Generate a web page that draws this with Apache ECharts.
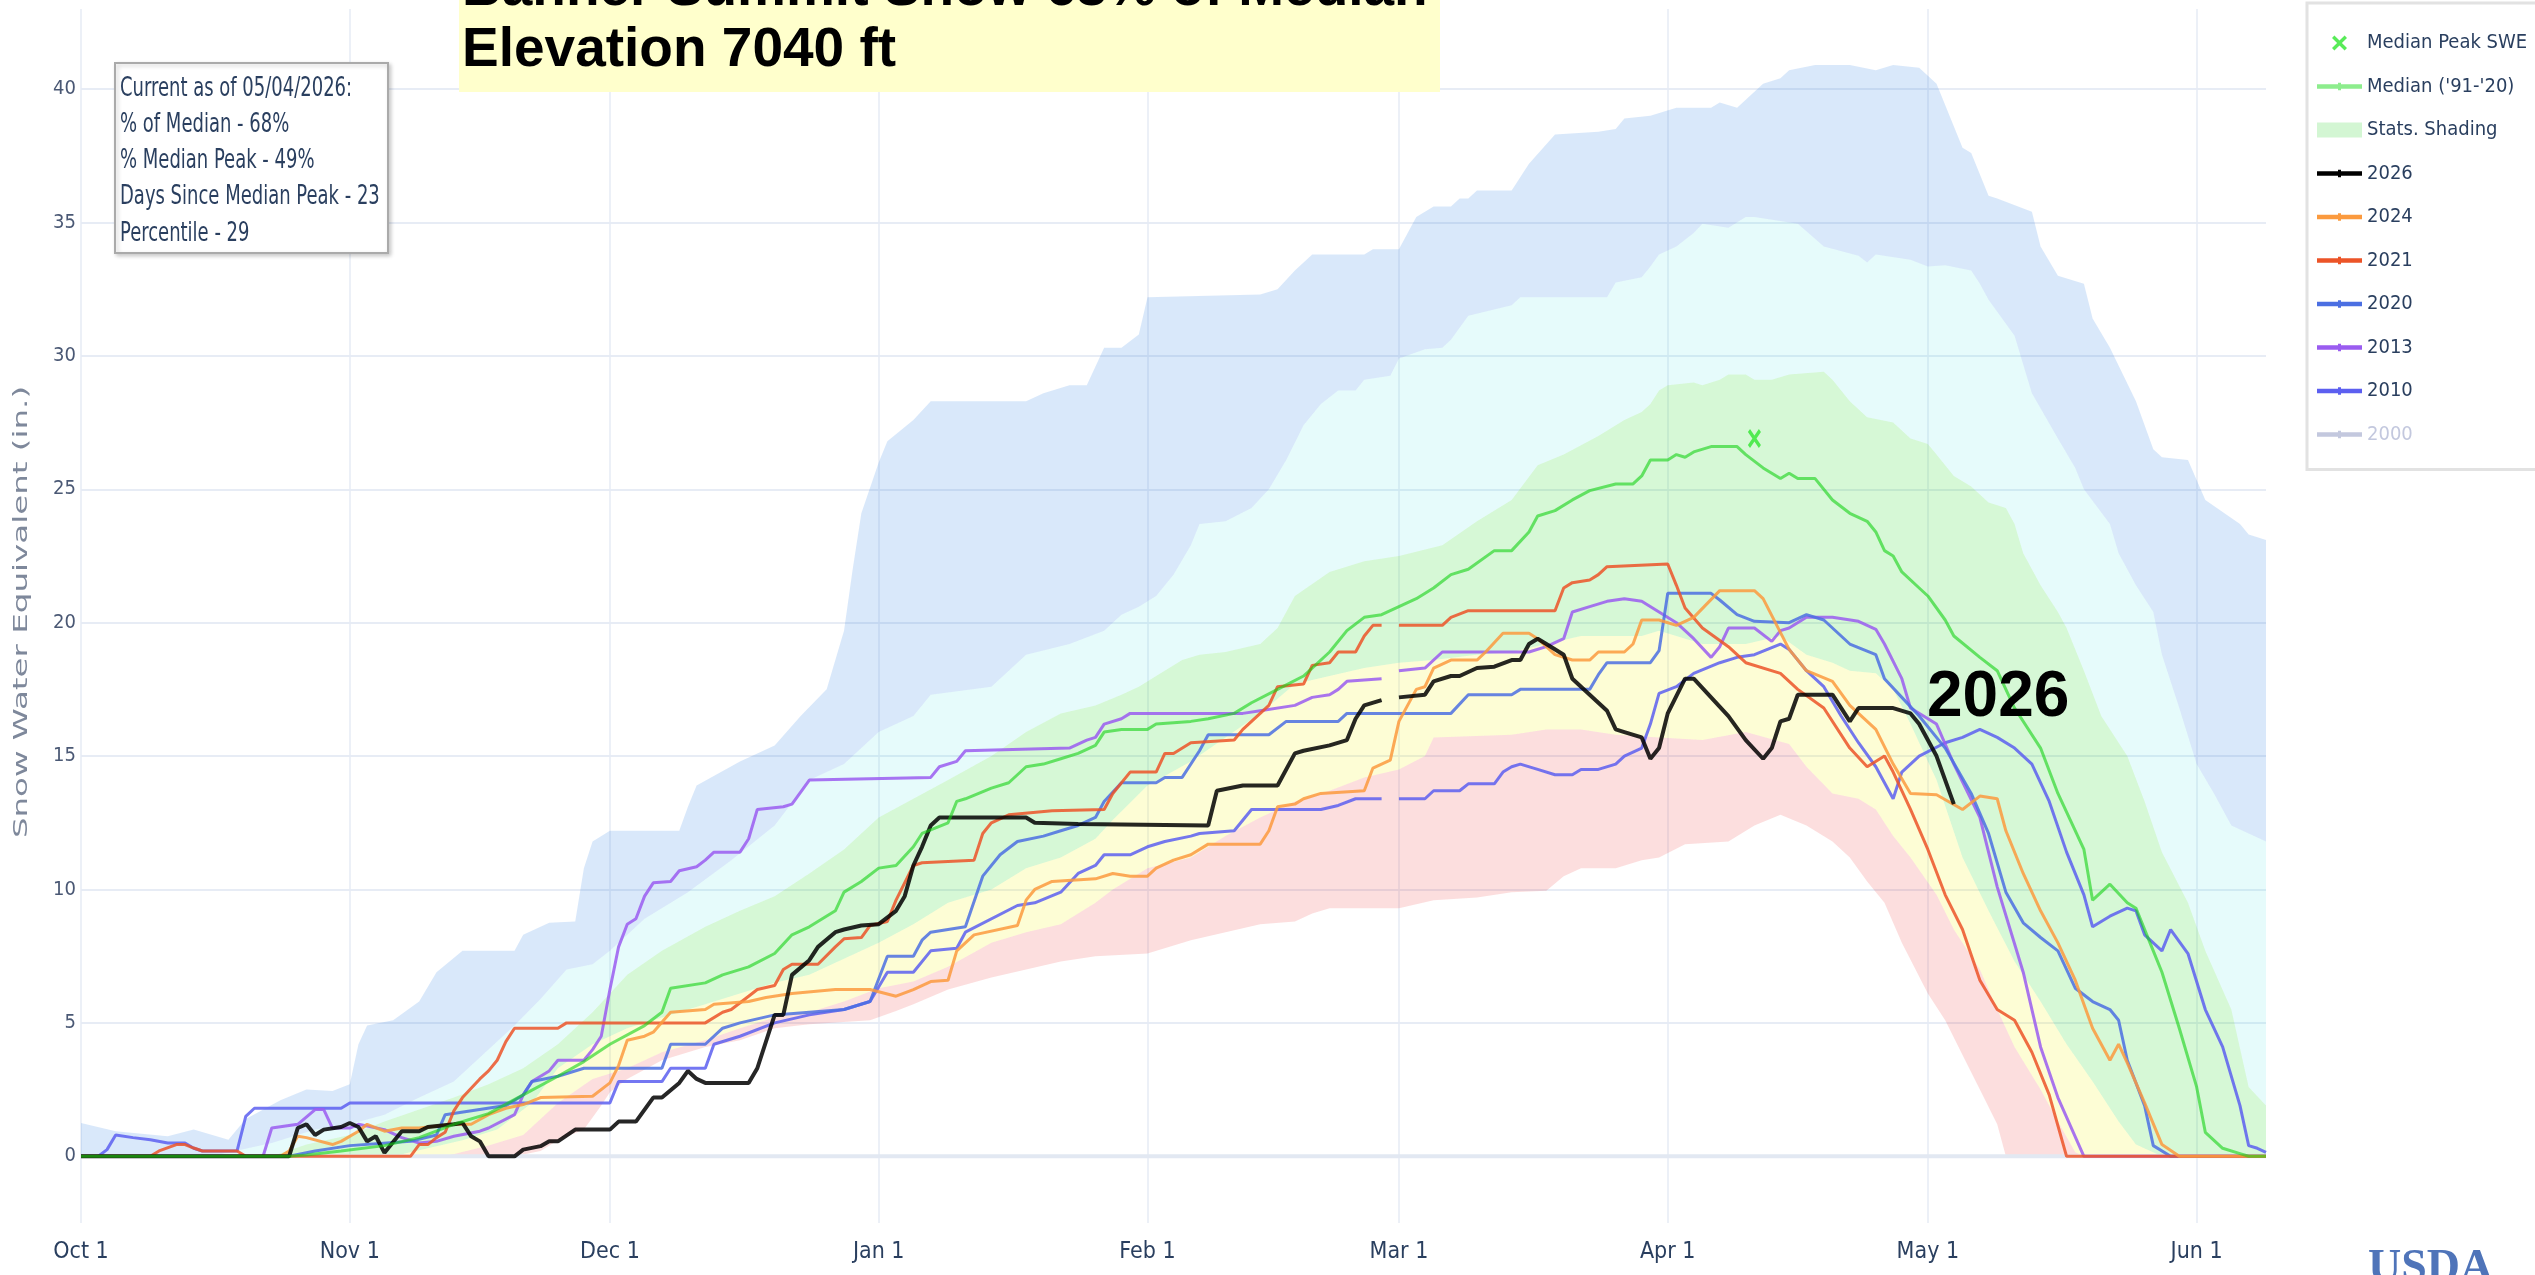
<!DOCTYPE html>
<html>
<head>
<meta charset="utf-8">
<title>Banner Summit SWE</title>
<script src="https://cdn.jsdelivr.net/npm/echarts@6/dist/echarts.min.js"></script>
<style>
  html, body { margin: 0; padding: 0; background: #fff; }
  #swe { width: 2535px; height: 1275px; }
</style>
</head>
<body>
<div id="swe"></div>
<script>
// x = day of water year, 0 = Oct 1 (leap calendar, Feb 29 = day 151)
const xMin = 0, xMax = 252;
const monthStarts = [0, 31, 61, 92, 123, 152, 183, 213, 244];
const monthLabels = ['Oct 1', 'Nov 1', 'Dec 1', 'Jan 1', 'Feb 1', 'Mar 1', 'Apr 1', 'May 1', 'Jun 1'];
const yTicks = [0, 5, 10, 15, 20, 25, 30, 35, 40];

// stats shading boundaries (in.)
const sweMax = [[0,1.25],[4,0.94],[10,0.75],[13,1.0],[17,0.62],[19,1.4],[23,2.1],[26,2.5],[29,2.45],[31,2.7],[32,4.2],[33,4.9],[36,5.1],[39,5.8],[41,6.9],[44,7.7],[50,7.7],[51,8.3],[54,8.75],[57,8.8],[58,10.8],[59,11.8],[61,12.2],[69,12.2],[70,13.1],[71,13.9],[76,14.8],[80,15.4],[83,16.5],[86,17.5],[88,19.7],[89,22.0],[90,24.1],[92,26.0],[93,26.8],[96,27.6],[98,28.3],[109,28.3],[111,28.6],[114,28.9],[116,28.9],[118,30.3],[120,30.3],[122,30.8],[123,32.2],[136,32.3],[138,32.5],[140,33.2],[142,33.8],[148,33.8],[149,34.0],[152,34.0],[154,35.2],[156,35.6],[158,35.6],[159,35.9],[160,35.9],[161,36.2],[165,36.2],[167,37.2],[170,38.3],[175,38.4],[177,38.5],[178,38.9],[181,39.0],[184,39.3],[188,39.3],[189,39.5],[191,39.3],[192,39.6],[194,40.2],[196,40.4],[197,40.7],[200,40.9],[204,40.9],[207,40.7],[209,40.9],[212,40.8],[214,40.2],[217,37.8],[218,37.6],[220,36.0],[221,35.9],[225,35.4],[226,34.1],[228,33.0],[231,32.7],[232,31.4],[234,30.3],[237,28.3],[239,26.5],[240,26.2],[243,26.1],[245,24.6],[249,23.7],[250,23.3],[252,23.1]];
const sweP90 = [[0,0],[15,0],[22,0.5],[27,1.0],[31,1.2],[35,1.56],[39,2.2],[43,2.8],[47,4.0],[50,4.9],[53,5.9],[56,7.0],[59,7.2],[61,7.7],[65,8.9],[70,9.9],[75,11.1],[80,12.4],[84,14.1],[88,14.7],[92,15.9],[96,16.5],[98,17.3],[105,17.6],[109,18.8],[114,19.2],[118,19.7],[120,20.3],[122,20.6],[124,21.0],[126,21.8],[128,22.9],[129,23.7],[132,23.8],[135,24.3],[137,25.0],[139,26.1],[141,27.4],[143,28.2],[145,28.7],[147,28.7],[148,29.1],[151,29.25],[152,29.9],[155,30.25],[157,30.3],[158,30.6],[160,31.5],[165,31.9],[166,32.2],[176,32.2],[177,32.75],[180,32.95],[181,33.35],[182,33.8],[184,34.1],[186,34.6],[187,34.95],[190,34.8],[192,35.2],[193,35.2],[198,34.95],[201,34.1],[205,33.75],[206,33.5],[207,33.8],[211,33.6],[213,33.35],[215,33.4],[218,33.2],[219,32.7],[220,32.1],[223,30.75],[225,28.6],[228,26.9],[230,25.8],[231,25.0],[234,23.7],[235,22.6],[237,21.4],[239,20.4],[240,18.8],[242,16.8],[244,14.7],[246,13.6],[248,12.4],[250,12.1],[252,11.8]];
const sweP70 = [[0,0],[22,0],[26,0.44],[31,0.8],[35,1.3],[39,1.75],[43,2.2],[47,2.7],[51,3.3],[55,4.2],[59,5.4],[63,6.8],[67,7.7],[72,8.6],[76,9.2],[80,9.75],[84,10.6],[88,11.5],[92,12.7],[96,13.4],[100,14.1],[105,15.0],[109,15.9],[113,16.6],[117,16.9],[120,17.3],[122,17.6],[124,18.0],[127,18.6],[129,18.8],[132,18.9],[136,19.2],[138,19.8],[140,21.0],[144,21.9],[148,22.3],[152,22.5],[157,22.9],[161,23.8],[165,24.6],[168,25.9],[171,26.3],[175,27.0],[178,27.6],[180,27.9],[181,28.2],[182,28.7],[183,28.9],[186,29.0],[187,28.9],[189,29.1],[190,29.3],[192,29.3],[193,29.1],[195,29.1],[197,29.3],[201,29.4],[202,29.1],[204,28.3],[206,27.7],[209,27.5],[211,26.9],[213,26.7],[214,26.3],[216,25.5],[218,25.1],[220,24.5],[222,24.3],[223,23.7],[224,22.6],[226,21.4],[228,20.4],[229,19.8],[231,18.2],[233,16.5],[236,15.0],[238,13.3],[240,11.4],[243,9.5],[245,7.7],[248,5.5],[250,2.6],[252,1.9]];
const sweP30 = [[0,0],[36,0],[40,0.3],[44,0.6],[48,1.0],[52,2.0],[55,3.3],[59,4.2],[63,4.8],[67,5.2],[72,5.7],[76,6.1],[80,6.5],[84,6.8],[88,7.4],[92,8.0],[96,8.7],[100,9.5],[105,10.0],[109,10.8],[113,11.2],[117,11.9],[119,12.6],[123,13.9],[128,14.8],[132,15.7],[136,16.6],[140,17.7],[144,18.0],[148,18.3],[152,18.5],[156,18.6],[161,18.8],[165,18.9],[169,19.2],[173,19.5],[180,19.5],[182,19.7],[187,19.2],[192,19.2],[196,19.5],[199,18.8],[202,18.5],[204,18.2],[207,18.1],[209,17.5],[211,16.2],[214,14.1],[217,11.2],[220,9.2],[223,7.3],[226,5.8],[229,4.2],[232,2.8],[235,1.3],[237,0.44],[240,0],[252,0]];
const sweP10 = [[0,0],[42,0],[47,0.4],[51,0.8],[55,2.0],[59,2.9],[63,3.3],[67,3.9],[72,4.35],[76,4.8],[80,5.2],[84,5.4],[88,5.8],[92,6.3],[96,6.55],[100,7.1],[105,8.0],[109,8.4],[113,8.7],[117,9.5],[119,10.0],[123,10.8],[128,11.2],[132,12.0],[136,12.7],[140,13.3],[144,13.7],[148,14.2],[152,14.5],[155,15.0],[156,15.7],[165,15.8],[169,16.0],[173,16.0],[177,15.8],[182,15.7],[187,15.6],[192,15.9],[197,15.45],[199,14.6],[202,13.6],[205,13.4],[207,13.0],[209,12.0],[211,11.2],[214,9.8],[216,8.5],[219,7.0],[221,5.5],[223,4.1],[226,2.5],[228,1.3],[230,0.15],[231,0],[252,0]];
const sweMin = [[0,0],[50,0],[53,0.2],[55,0.6],[58,1.0],[60,1.9],[61,2.4],[63,2.9],[67,3.6],[72,4.1],[76,4.35],[80,4.8],[84,4.95],[91,5.1],[94,5.45],[96,5.7],[100,6.25],[105,6.7],[109,7.0],[113,7.3],[117,7.5],[123,7.6],[128,8.1],[132,8.4],[136,8.7],[140,8.8],[142,9.1],[144,9.3],[152,9.3],[156,9.6],[161,9.7],[165,9.9],[169,9.95],[171,10.5],[173,10.8],[177,10.8],[180,11.1],[182,11.2],[185,11.7],[190,11.8],[193,12.4],[196,12.8],[199,12.4],[202,11.8],[204,11.2],[206,10.3],[208,9.5],[210,8.0],[213,6.1],[215,5.1],[217,3.8],[219,2.5],[221,1.2],[222,0],[252,0]];

// median ('91-'20) and yearly SWE; '-' on Feb 29 breaks non-leap years
const median = [[0,0],[24,0],[26,0.05],[30,0.2],[35,0.4],[39,0.7],[43,1.2],[47,1.6],[51,2.3],[55,3.0],[58,3.55],[61,4.2],[65,4.9],[67,5.4],[68,6.3],[72,6.5],[74,6.8],[77,7.1],[80,7.6],[82,8.3],[84,8.6],[87,9.2],[88,9.9],[90,10.3],[92,10.8],[94,10.9],[96,11.6],[97,12.1],[100,12.5],[101,13.3],[102,13.4],[105,13.8],[107,14.0],[109,14.6],[111,14.7],[113,14.9],[115,15.1],[117,15.4],[118,15.9],[120,16.0],[123,16.0],[124,16.2],[128,16.3],[130,16.4],[133,16.6],[135,17.0],[138,17.5],[141,18.0],[144,18.9],[146,19.7],[148,20.2],[150,20.3],[152,20.6],[154,20.9],[156,21.3],[158,21.8],[160,22.0],[163,22.7],[165,22.7],[167,23.4],[168,24.0],[170,24.2],[172,24.6],[174,24.95],[177,25.2],[179,25.2],[180,25.5],[181,26.1],[183,26.1],[184,26.3],[185,26.2],[186,26.4],[188,26.6],[191,26.6],[192,26.3],[194,25.8],[196,25.4],[197,25.6],[198,25.4],[200,25.4],[202,24.6],[204,24.1],[206,23.8],[207,23.4],[208,22.7],[209,22.5],[210,21.9],[212,21.3],[213,21.0],[215,20.1],[216,19.5],[219,18.7],[221,18.2],[223,16.8],[226,15.3],[228,13.6],[231,11.5],[232,9.6],[234,10.2],[236,9.5],[237,9.3],[239,7.7],[240,6.9],[242,4.8],[244,2.6],[245,0.9],[247,0.3],[249,0.1],[250,0],[252,0]];
const medianPeak = [[193, 26.9]];
const wy2026 = [[0,0],[24,0],[25,1.06],[26,1.2],[27,0.8],[28,1.0],[30,1.1],[31,1.25],[32,1.1],[33,0.56],[34,0.75],[35,0.13],[37,0.94],[39,0.94],[40,1.1],[43,1.2],[44,1.25],[45,0.75],[46,0.56],[47,0],[50,0],[51,0.25],[53,0.38],[54,0.56],[55,0.56],[57,1.0],[61,1.0],[62,1.3],[64,1.3],[66,2.2],[67,2.2],[69,2.75],[70,3.2],[71,2.9],[72,2.75],[77,2.75],[78,3.3],[80,5.3],[81,5.3],[82,6.8],[84,7.35],[85,7.85],[87,8.4],[88,8.5],[90,8.65],[92,8.7],[94,9.2],[95,9.75],[96,10.9],[97,11.6],[98,12.4],[99,12.7],[109,12.7],[110,12.5],[115,12.45],[130,12.4],[131,13.7],[134,13.9],[138,13.9],[140,15.1],[141,15.2],[144,15.4],[146,15.6],[147,16.4],[148,16.9],[150,17.1],[151,'-'],[152,17.2],[155,17.3],[156,17.8],[158,18.0],[159,18.0],[161,18.3],[163,18.35],[165,18.6],[166,18.6],[167,19.2],[168,19.4],[169,19.2],[171,18.8],[172,17.9],[173,17.6],[176,16.7],[177,16.0],[178,15.9],[180,15.7],[181,14.9],[182,15.3],[183,16.6],[185,17.9],[186,17.9],[190,16.5],[192,15.6],[194,14.9],[195,15.3],[196,16.3],[197,16.4],[198,17.3],[202,17.3],[204,16.3],[205,16.8],[209,16.8],[211,16.6],[212,16.2],[214,15.0],[216,13.2]];
const wy2024 = [[0,0],[23,0],[24,0.2],[25,0.75],[26,0.7],[29,0.44],[30,0.56],[32,0.94],[33,1.2],[35,0.94],[37,1.06],[39,1.06],[43,1.2],[45,1.2],[47,1.56],[49,1.8],[51,1.94],[53,2.2],[59,2.25],[61,2.75],[62,3.4],[63,4.35],[65,4.5],[66,4.65],[68,5.4],[72,5.5],[73,5.7],[77,5.8],[79,5.95],[82,6.1],[87,6.25],[91,6.25],[94,6.0],[96,6.25],[97,6.4],[98,6.55],[100,6.6],[101,7.7],[103,8.3],[108,8.65],[109,9.6],[110,10.0],[112,10.3],[117,10.4],[119,10.6],[121,10.5],[123,10.5],[124,10.8],[126,11.1],[128,11.3],[130,11.7],[136,11.7],[137,12.2],[138,13.1],[140,13.2],[141,13.4],[143,13.6],[148,13.7],[149,14.55],[151,14.85],[152,16.3],[153,16.9],[154,17.5],[155,17.6],[156,18.3],[158,18.6],[161,18.6],[162,18.9],[164,19.6],[167,19.6],[168,19.4],[170,18.8],[172,18.6],[174,18.6],[175,18.9],[178,18.9],[179,19.2],[180,20.1],[182,20.1],[184,19.9],[186,20.2],[189,21.2],[193,21.2],[194,20.9],[197,19.0],[199,18.2],[202,17.8],[204,16.9],[207,16.0],[209,14.7],[211,13.6],[214,13.55],[217,13.0],[219,13.5],[221,13.4],[222,12.2],[224,10.6],[226,9.2],[228,8.0],[230,6.6],[232,4.8],[234,3.6],[235,4.2],[236,3.5],[238,2.0],[240,0.44],[242,0],[252,0]];
const wy2021 = [[0,0],[8,0],[9,0.2],[11,0.44],[12,0.44],[13,0.31],[14,0.2],[18,0.2],[19,0],[38,0],[39,0.44],[40,0.44],[41,0.7],[42,0.9],[43,1.7],[44,2.2],[46,2.9],[47,3.2],[48,3.6],[49,4.3],[50,4.8],[55,4.8],[56,5.0],[72,5.0],[74,5.4],[75,5.5],[77,6.0],[78,6.25],[80,6.4],[81,7.0],[82,7.2],[85,7.2],[87,7.85],[88,8.15],[90,8.2],[91,8.65],[93,8.8],[94,9.6],[96,10.9],[97,11.0],[103,11.1],[104,12.1],[105,12.5],[107,12.8],[112,12.95],[118,13.0],[119,13.6],[121,14.4],[124,14.4],[125,15.1],[126,15.1],[128,15.5],[133,15.6],[134,16.0],[136,16.6],[137,16.9],[138,17.6],[141,17.7],[142,18.4],[144,18.5],[145,18.9],[147,18.9],[148,19.5],[149,19.9],[150,19.9],[151,'-'],[152,19.9],[157,19.9],[158,20.2],[160,20.45],[170,20.45],[171,21.3],[172,21.5],[174,21.6],[175,21.8],[176,22.1],[183,22.2],[184,21.4],[185,20.55],[187,19.8],[190,19.1],[192,18.5],[196,18.1],[198,17.5],[201,16.8],[204,15.3],[206,14.6],[208,15.0],[209,14.4],[211,13.0],[213,11.5],[215,9.8],[217,8.5],[219,6.6],[221,5.5],[223,5.1],[225,3.9],[227,2.3],[229,0],[252,0]];
const wy2020 = [[0,0],[24,0],[27,0.2],[31,0.4],[38,0.56],[41,0.8],[42,1.56],[49,1.9],[51,2.3],[52,2.8],[55,3.0],[58,3.3],[67,3.3],[68,4.2],[72,4.2],[74,4.8],[76,5.0],[80,5.3],[88,5.5],[91,5.8],[93,7.5],[96,7.5],[97,8.1],[98,8.4],[102,8.6],[104,10.5],[106,11.3],[108,11.8],[111,12.0],[113,12.2],[115,12.4],[117,12.7],[118,13.3],[120,14.0],[124,14.0],[125,14.2],[127,14.2],[129,15.2],[130,15.8],[137,15.8],[139,16.3],[145,16.3],[146,16.6],[158,16.6],[160,17.3],[165,17.3],[166,17.5],[174,17.5],[175,18.05],[176,18.5],[181,18.5],[182,18.95],[183,21.1],[188,21.1],[189,20.85],[191,20.3],[193,20.05],[197,20.0],[199,20.3],[201,20.1],[204,19.2],[207,18.8],[208,17.9],[210,17.2],[212,16.5],[215,15.3],[218,13.6],[220,12.1],[222,9.9],[224,8.75],[226,8.2],[228,7.7],[230,6.3],[232,5.8],[234,5.5],[235,5.1],[236,3.6],[238,1.9],[239,0.4],[241,0],[252,0]];
const wy2013 = [[0,0],[21,0],[22,1.06],[25,1.2],[27,1.75],[28,1.75],[29,1.06],[31,1.06],[32,1.2],[35,1.0],[37,0.7],[39,0.5],[41,0.56],[43,0.75],[46,0.94],[47,1.06],[50,1.56],[51,2.3],[52,2.8],[54,3.2],[55,3.6],[58,3.6],[59,4.0],[60,4.5],[61,6.25],[62,7.85],[63,8.7],[64,8.9],[65,9.75],[66,10.25],[68,10.3],[69,10.7],[71,10.85],[72,11.1],[73,11.4],[76,11.4],[77,11.9],[78,13.0],[81,13.1],[82,13.2],[84,14.1],[98,14.2],[99,14.6],[101,14.8],[102,15.2],[114,15.3],[116,15.6],[117,15.7],[118,16.2],[120,16.4],[121,16.6],[134,16.6],[136,16.7],[140,16.9],[142,17.2],[144,17.3],[145,17.5],[146,17.8],[150,17.9],[151,'-'],[152,18.2],[155,18.3],[157,18.9],[167,18.9],[169,19.1],[171,19.4],[172,20.4],[174,20.6],[176,20.8],[178,20.9],[180,20.8],[182,20.4],[184,20.0],[186,19.4],[188,18.7],[189,19.1],[190,19.8],[193,19.8],[195,19.3],[196,19.7],[197,19.8],[199,20.2],[202,20.2],[205,20.05],[207,19.75],[208,19.2],[210,17.9],[211,16.8],[214,16.2],[216,14.7],[219,12.7],[221,10.1],[224,6.9],[226,4.1],[228,2.2],[231,0],[252,0]];
const wy2010 = [[0,0],[2,0],[3,0.25],[4,0.8],[6,0.7],[8,0.62],[10,0.5],[12,0.5],[13,0.3],[14,0.2],[18,0.2],[19,1.5],[20,1.8],[30,1.8],[31,2.0],[61,2.0],[62,2.8],[67,2.8],[68,3.3],[72,3.3],[73,4.2],[76,4.5],[80,5.0],[84,5.3],[88,5.5],[91,5.8],[93,6.9],[96,6.9],[98,7.7],[101,7.8],[102,8.4],[108,9.4],[110,9.5],[113,9.9],[115,10.6],[117,10.9],[118,11.3],[121,11.3],[123,11.6],[125,11.8],[128,12.0],[129,12.1],[133,12.2],[135,13.0],[143,13.0],[145,13.15],[147,13.4],[150,13.4],[151,'-'],[152,13.4],[155,13.4],[156,13.7],[159,13.7],[160,13.96],[163,13.96],[164,14.4],[165,14.6],[166,14.7],[168,14.5],[170,14.3],[172,14.3],[173,14.5],[175,14.5],[177,14.7],[178,15.0],[180,15.3],[181,16.2],[182,17.35],[184,17.6],[186,18.1],[189,18.5],[191,18.7],[193,18.8],[196,19.2],[197,19.0],[199,18.2],[201,17.6],[203,16.5],[205,15.5],[207,14.6],[209,13.4],[210,14.4],[212,15.0],[215,15.5],[217,15.7],[219,16.0],[221,15.7],[223,15.3],[225,14.7],[227,13.3],[229,11.4],[231,9.8],[232,8.6],[234,9.0],[236,9.3],[237,9.2],[238,8.3],[240,7.7],[241,8.5],[243,7.6],[245,5.5],[247,4.1],[249,1.9],[250,0.4],[251,0.3],[252,0.15]];
const wy2000 = []; // legend-only (hidden) in the original

const infoLines = ['Current as of 05/04/2026:', '% of Median - 68%', '% Median Peak - 49%', 'Days Since Median Peak - 23', 'Percentile - 29'];
const titleLines = ['Banner Summit Snow 68% of Median', 'Elevation 7040 ft'];

const narrow = '"DejaVu Sans Condensed", "DejaVu Sans", sans-serif';
const ink = '#2a3f5f';
const peakIcon = 'path://M0,1.6 L1.6,0 L5,3.4 L8.4,0 L10,1.6 L6.6,5 L10,8.4 L8.4,10 L5,6.6 L1.6,10 L0,8.4 L3.4,5 Z';
// legend icon: thick line with a small tick in the middle (45 x 15 box)
const lineIcon = 'path://M0,0 L0.1,0 L0,0.1 Z M45,15 L44.9,15 L45,14.9 Z M0,5.2 L45,5.2 L45,9.8 L0,9.8 Z M21,3.8 L24,3.8 L24,11.2 L21,11.2 Z';

const chart = echarts.init(document.getElementById('swe'));

// shaded band between two boundary lines, drawn through the axes
function band(upper, lower, fill) {
  return {
    name: 'Stats. Shading',
    type: 'custom',
    silent: true,
    z: 1,
    itemStyle: { color: fill },
    data: [[0, 0]],
    renderItem: function (params, api) {
      const top = upper.map(p => api.coord(p));
      const bottom = lower.slice().reverse().map(p => api.coord(p));
      return { type: 'polygon', shape: { points: top.concat(bottom) }, style: { fill: fill } };
    }
  };
}

function year(name, data, color, width) {
  return {
    name: name,
    type: 'line',
    data: data,
    z: 3,
    showSymbol: false,
    symbol: 'circle',
    symbolSize: 5,
    lineStyle: { color: color, width: width, opacity: 0.85 },
    itemStyle: { color: color }
  };
}

const legendNames = ["Median ('91-'20)", '2026', '2024', '2021', '2020', '2013', '2010', '2000'];

const option = {
  animation: false,
  backgroundColor: '#ffffff',
  grid: { left: 81, right: 269, top: 9, bottom: 52 },
  xAxis: {
    type: 'value', min: xMin, max: xMax,
    axisLine: { show: false },
    axisTick: { show: false, customValues: monthStarts },
    axisLabel: {
      customValues: monthStarts,
      formatter: v => monthLabels[monthStarts.indexOf(v)] || '',
      color: ink, fontFamily: narrow, fontSize: 23, margin: 18
    },
    splitLine: { show: true, lineStyle: { color: '#e6ebf4', width: 1.5 } }
  },
  yAxis: {
    type: 'value', min: -2.5, max: 43,
    axisLine: { show: false },
    axisTick: { show: false, customValues: yTicks },
    axisLabel: { customValues: yTicks, color: '#4a5874', fontFamily: narrow, fontSize: 20, margin: 5 },
    splitLine: { show: true, lineStyle: { color: '#e7ecf5', width: 2 } }
  },
  legend: {
    orient: 'vertical', left: 2307, top: 3,
    backgroundColor: '#ffffff', borderColor: '#e2e2e2', borderWidth: 3,
    padding: [29, 40, 24, 10],
    itemWidth: 45, itemHeight: 15, itemGap: 21.5,
    textStyle: { color: ink, fontFamily: narrow, fontSize: 20, lineHeight: 22 },
    inactiveColor: '#c3c8de',
    selected: { '2000': false },
    data: [{ name: 'Median Peak SWE' }]
      .concat([{ name: legendNames[0], icon: lineIcon, itemStyle: { color: '#8ded8d' } },
               { name: 'Stats. Shading', icon: 'rect', itemStyle: { color: '#d3f6d3' } }])
      .concat(legendNames.slice(1).map(n => ({ name: n, icon: lineIcon })))
  },
  graphic: [
    { type: 'rect', z: 100, shape: { x: 459, y: 0, width: 981, height: 92 }, style: { fill: '#ffffcc' } },
    { type: 'text', z: 101, x: 462, y: -10, style: { text: titleLines[0], fontFamily: '"Liberation Sans", Arial, sans-serif', fontWeight: 'bold', fontSize: 55, fill: '#000', verticalAlign: 'middle' } },
    { type: 'text', z: 101, x: 462, y: 51, style: { text: titleLines[1], fontFamily: '"Liberation Sans", Arial, sans-serif', fontWeight: 'bold', fontSize: 55, fill: '#000', verticalAlign: 'middle' } },
    { type: 'rect', z: 100, shape: { x: 115, y: 63, width: 273, height: 190 },
      style: { fill: '#ffffff', stroke: '#aaaaaa', lineWidth: 2, shadowBlur: 4, shadowOffsetX: 2, shadowOffsetY: 2, shadowColor: 'rgba(0,0,0,0.2)' } },
    { type: 'text', z: 101, x: 120, y: 71, scaleY: 1.3,
      style: { text: infoLines.join('\n'), fontFamily: narrow, fontSize: 20, lineHeight: 27.85, fill: ink, verticalAlign: 'top' } },
    { type: 'text', z: 101, x: 1927, y: 698, style: { text: '2026', fontFamily: '"Liberation Sans", Arial, sans-serif', fontWeight: 'bold', fontSize: 64, fill: '#000', verticalAlign: 'middle' } },
    { type: 'text', z: 101, x: 22, y: 612, rotation: Math.PI / 2, scaleX: 1.71,
      style: { text: 'Snow Water Equivalent (in.)', fontFamily: '"DejaVu Sans", sans-serif', fontSize: 19, fill: '#7e889b', align: 'center', verticalAlign: 'middle' } },
    { type: 'text', z: 101, x: 2368, y: 1269, style: { text: 'USDA', fontFamily: '"Liberation Serif", serif', fontWeight: 'bold', fontSize: 46, fill: '#4f74b9', verticalAlign: 'middle' } }
  ],
  // draw order: oldest year first so 2026 sits on top, then the median over all
  series: [
    band(sweP70, sweP30, 'rgba(14,214,14,0.17)'),
    band(sweMax, sweP90, 'rgba(27,116,227,0.17)'),
    band(sweP90, sweP70, 'rgba(5,215,215,0.10)'),
    band(sweP30, sweP10, 'rgba(243,243,8,0.17)'),
    band(sweP10, sweMin, 'rgba(235,35,35,0.15)'),
    {
      // zero line across the plot, under the year lines
      name: 'zero', type: 'line', z: 2, silent: true, showSymbol: false,
      data: [[xMin, 0], [xMax, 0]],
      lineStyle: { color: '#e2e8f2', width: 4 }
    },
    year('2000', wy2000, '#a9b0f6', 3),
    year('2010', wy2010, '#5c5ff0', 3),
    year('2013', wy2013, '#9a5cf0', 3),
    year('2020', wy2020, '#4b6fe2', 3),
    year('2021', wy2021, '#ec5428', 3),
    year('2024', wy2024, '#fb9a3e', 3),
    year('2026', wy2026, '#000000', 4),
    {
      name: "Median ('91-'20)", type: 'line', data: median, z: 3,
      showSymbol: false, symbol: 'circle', symbolSize: 5,
      lineStyle: { color: 'rgb(20,210,20)', width: 3, opacity: 0.6 }, itemStyle: { color: 'rgb(20,210,20)' }
    },
    {
      name: 'Median Peak SWE', type: 'scatter', data: medianPeak, z: 4,
      symbol: peakIcon, symbolSize: [13, 19], itemStyle: { color: '#2fe62f' }
    }
  ]
};

chart.setOption(option);
</script>
</body>
</html>
